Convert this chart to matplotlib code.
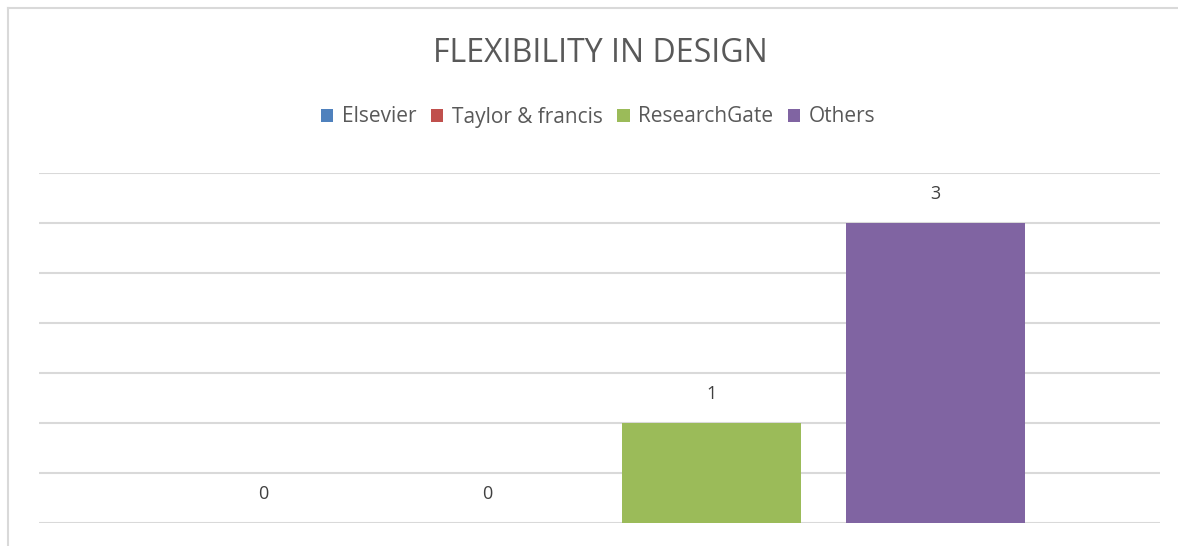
import matplotlib.pyplot as plt
from matplotlib.lines import Line2D

# data
series = ['Elsevier', 'Taylor & francis', 'ResearchGate', 'Others']
values = [0, 0, 1, 3]
colors = ['#4F81BD', '#C0504D', '#9BBB59', '#8064A2']

plt.rcParams['font.family'] = ['Open Sans', 'DejaVu Sans']

fig = plt.figure(figsize=(11.78, 5.46), dpi=100)
W, H = 1178., 546.
ax = fig.add_axes([39/W, 1-523/H, (1160-39)/W, (523-173)/H])

pos = list(range(len(series)))
for i in pos:
    ax.bar(i, values[i], width=0.80, color=colors[i], label=series[i], zorder=3)
    ax.text(i, values[i] + 0.29, str(values[i]), ha='center', va='center',
            fontsize=13, color='#404040')

ax.set_xlim(-1, 4)
ax.set_ylim(0, 3.5)
ax.set_yticks([0.5*k for k in range(8)])
ax.yaxis.grid(True, color='#D9D9D9', linewidth=1.5, zorder=0)
ax.set_xticks([])
ax.tick_params(left=False, labelleft=False)
for s in ax.spines.values():
    s.set_visible(False)

fig.text(600/W, 1-53/H, 'FLEXIBILITY IN DESIGN', ha='center', va='center',
         fontsize=23, color='#595959')
fig.legend(loc='center', bbox_to_anchor=(598/W, 1-117/H), ncol=4, frameon=False,
           fontsize=15, labelcolor='#595959', handlelength=0.6, handleheight=0.6,
           handletextpad=0.4, columnspacing=0.7)

# outer frame (top and left edges)
fig.add_artist(Line2D([8/W, 1], [1-8/H, 1-8/H], color='#D9D9D9', lw=1.5))
fig.add_artist(Line2D([8/W, 8/W], [0, 1-8/H], color='#D9D9D9', lw=1.5))

fig.savefig('out.png', dpi=100)
